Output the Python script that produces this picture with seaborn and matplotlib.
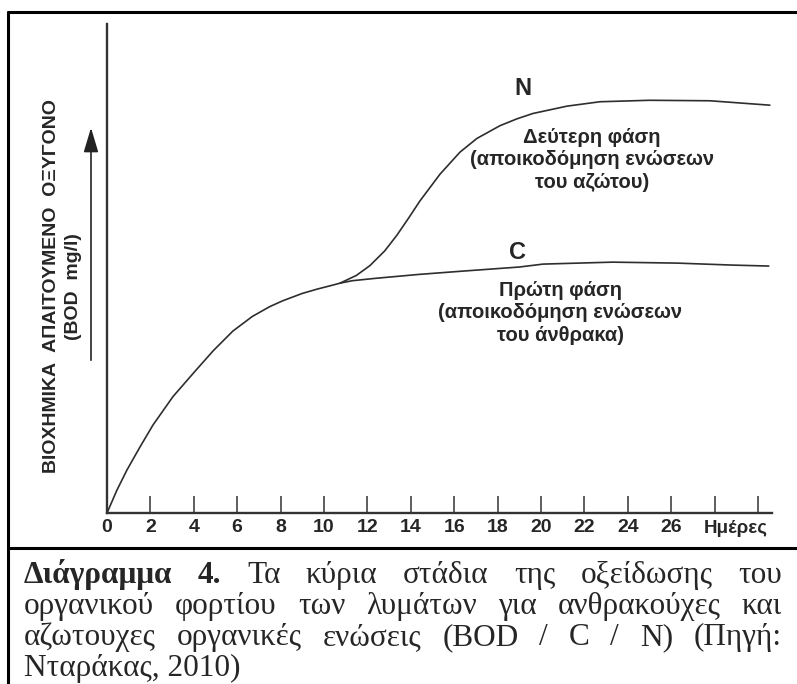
import numpy as np
import pandas as pd
import matplotlib
matplotlib.use("Agg")
import matplotlib.pyplot as plt
import seaborn as sns
from matplotlib.lines import Line2D

# first phase (carbon) curve
c_days = [0, 0.46, 0.92, 1.52, 2.12, 3.04, 4.06, 4.9, 5.8, 6.7, 7.5, 8.1, 9.0, 9.7, 10.4, 10.74,
          11.3, 12.4, 13.4, 14.4, 16.5, 19.0, 20.1, 23.3, 26.3, 28.8, 30.5]
c_bod = [0, 4.7, 8.8, 13.5, 18.0, 23.8, 29.0, 33.2, 37.2, 40.2, 42.2, 43.4, 44.9, 45.8, 46.6, 47.0,
         47.5, 48.0, 48.4, 48.8, 49.5, 50.3, 50.9, 51.3, 51.1, 50.7, 50.5]

# second phase (nitrogen) curve, branches off the carbon curve
n_days = [10.74, 11.5, 12.12, 12.8, 13.36, 13.9, 14.42, 15.35, 16.27, 17.05, 18.11, 18.89, 19.63,
          21.2, 22.72, 25.0, 27.79, 30.55]
n_bod = [47.0, 48.6, 50.6, 53.6, 56.8, 60.3, 63.8, 69.3, 73.8, 76.6, 79.2, 80.6, 81.7,
         83.2, 84.1, 84.4, 84.3, 83.4]

tick_days = list(range(0, 31, 2))
tick_labels = [str(d) for d in range(0, 27, 2)] + ['', '']
x_unit = 'Ημέρες'
y_label = 'ΒΙΟΧΗΜΙΚΑ  ΑΠΑΙΤΟΥΜΕΝΟ  ΟΞΥΓΟΝΟ'
y_unit = '(BOD  mg/l)'
n_text = 'Δεύτερη φάση\n(αποικοδόμηση ενώσεων\nτου αζώτου)'
c_text = 'Πρώτη φάση\n(αποικοδόμηση ενώσεων\nτου άνθρακα)'
caption_lines = [
    [('Διάγραμμα', 'bold'), ('4.', 'bold'), ('Τα', 'normal'), ('κύρια', 'normal'), ('στάδια', 'normal'),
     ('της', 'normal'), ('οξείδωσης', 'normal'), ('του', 'normal')],
    [(w, 'normal') for w in 'οργανικού φορτίου των λυμάτων για ανθρακούχες και'.split()],
    [(w, 'normal') for w in 'αζωτουχες οργανικές ενώσεις (BOD / C / N) (Πηγή:'.split()],
    [('Νταράκας, 2010)', 'normal')],
]

W, H = 797, 684
sns.set_theme(style="ticks")
plt.rcParams['font.family'] = ['Liberation Sans', 'DejaVu Sans']

df = pd.concat([
    pd.DataFrame({'day': c_days, 'bod': c_bod, 'phase': 'C'}),
    pd.DataFrame({'day': n_days, 'bod': n_bod, 'phase': 'N'}),
], ignore_index=True)

fig = plt.figure(figsize=(W / 100, H / 100), dpi=100)
fig.patch.set_facecolor('white')

# axes placed in pixels: origin at (107, 513), x end 772, y top 24
ax = fig.add_axes([107 / W, (H - 513) / H, (772 - 107) / W, (513 - 24) / H])
sns.lineplot(data=df, x='day', y='bod', hue='phase', palette=['#2e2e2e', '#2e2e2e'],
             linewidth=1.2, legend=False, sort=False, ax=ax)
ax.set_xlim(0, 30.65)
ax.set_ylim(0, 100)
sns.despine(ax=ax)
for side in ['left', 'bottom']:
    ax.spines[side].set_linewidth(1.7)
    ax.spines[side].set_color('#333333')
ax.set_xticks(tick_days)
ax.set_xticklabels(tick_labels, fontweight='bold', fontsize=14)
ax.set_yticks([])
ax.tick_params(axis='x', direction='in', length=12.5, width=1.1, color='#333333', pad=4)
ax.set_xlabel('')
ax.set_ylabel('')
ax.text(29.0, -0.031, x_unit, transform=ax.get_xaxis_transform(), ha='center', va='center',
        fontweight='bold', fontsize=13.5)

# curve labels
ax.text(19.17, 86.9, 'N', ha='center', va='center', fontweight='bold', fontsize=17)
ax.text(18.94, 53.2, 'C', ha='center', va='center', fontweight='bold', fontsize=17)
ax.text(22.35, 72.2, n_text, ha='center', va='center', fontweight='bold', fontsize=14.5,
        linespacing=1.22)
ax.text(20.9, 40.9, c_text, ha='center', va='center', fontweight='bold', fontsize=14.5,
        linespacing=1.22)

# rotated y label and arrow
fig.text(52 / W, 1 - 286 / H, y_label, rotation=90, ha='center', va='center',
         fontweight='bold', fontsize=14)
fig.text(73 / W, 1 - 287 / H, y_unit, rotation=90, ha='center', va='center',
         fontweight='bold', fontsize=14)
fig.add_artist(matplotlib.patches.FancyArrowPatch(
    (91 / W, 1 - 363 / H), (91 / W, 1 - 125 / H), transform=fig.transFigure,
    arrowstyle='-|>,head_length=1.5,head_width=0.45', mutation_scale=10,
    lw=1.2, color='#222222'))

# frame lines
fig.add_artist(Line2D([8 / W, 1.0], [1 - 12 / H, 1 - 12 / H], transform=fig.transFigure,
                      color='black', lw=2.2))
fig.add_artist(Line2D([8 / W, 8 / W], [0, 1 - 12 / H], transform=fig.transFigure,
                      color='black', lw=2.2))
fig.add_artist(Line2D([8 / W, 1.0], [1 - 548 / H, 1 - 548 / H], transform=fig.transFigure,
                      color='black', lw=2.2))

# justified caption
serif = ['Liberation Serif', 'DejaVu Serif']
renderer = fig.canvas.get_renderer()
x0, x1 = 24, 782
baselines = [583, 614, 645, 676]
for words, base in zip(caption_lines, baselines):
    texts = [fig.text(0, 1 - base / H, w, fontsize=22.5, fontweight=wt, family=serif,
                      va='baseline', ha='left') for w, wt in words]
    widths = [t.get_window_extent(renderer).width for t in texts]
    if len(texts) > 1 and base != baselines[-1]:
        gap = (x1 - x0 - sum(widths)) / (len(texts) - 1)
    else:
        gap = 0
    x = x0
    for t, w in zip(texts, widths):
        t.set_x(x / W)
        x += w + gap

fig.savefig('out.png', dpi=100, facecolor='white')
